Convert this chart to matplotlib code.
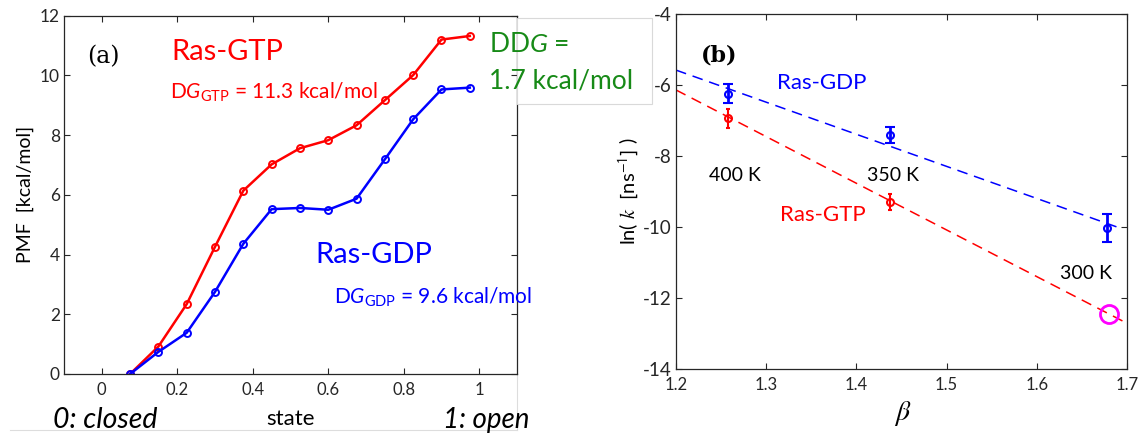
import matplotlib
matplotlib.use('Agg')
import matplotlib.pyplot as plt
from matplotlib.patches import Rectangle
from matplotlib.lines import Line2D

plt.rcParams['font.family'] = ['Lato', 'DejaVu Sans']
plt.rcParams['mathtext.fontset'] = 'custom'
plt.rcParams['mathtext.rm'] = 'Lato'
plt.rcParams['mathtext.it'] = 'Lato:italic'
plt.rcParams['mathtext.sf'] = 'Lato'
plt.rcParams['axes.unicode_minus'] = False

# (a) PMF along the state coordinate
state = [0.075, 0.15, 0.225, 0.3, 0.375, 0.45, 0.525, 0.6, 0.675, 0.75, 0.825, 0.9, 0.975]
pmf_gtp = [0, 0.92, 2.34, 4.26, 6.14, 7.02, 7.56, 7.83, 8.33, 9.17, 10.01, 11.2, 11.32]
pmf_gdp = [0, 0.74, 1.38, 2.75, 4.36, 5.52, 5.56, 5.50, 5.87, 7.19, 8.53, 9.53, 9.59]

# (b) Arrhenius plot
beta = [1.2577, 1.4377, 1.6774]
lnk_gdp = [-6.24, -7.41, -10.03]
err_gdp = [0.28, 0.22, 0.40]
beta_gtp = [1.2577, 1.4377]
lnk_gtp = [-6.94, -9.29]
err_gtp = [0.27, 0.23]
beta_extrap = [1.68]
lnk_extrap = [-12.47]
fit_beta_gtp = [1.2, 1.7]
fit_gtp = [-6.14, -12.72]
fit_beta_gdp = [1.2, 1.695]
fit_gdp = [-5.58, -10.06]

temp_labels = ['400 K', '350 K', '300 K']
temp_pos = [(1.2366, -8.71), (1.4115, -8.71), (1.6257, -11.47)]

red = '#ff0000'
blue = '#0000ff'
green = '#178a17'
axcol = '#262626'

fig = plt.figure(figsize=(11.39, 4.33), dpi=100)
ax1 = fig.add_axes([0.0562, 0.1363, 0.3977, 0.8275])
ax2 = fig.add_axes([0.5935, 0.1485, 0.396, 0.819])

for ax in (ax1, ax2):
    ax.tick_params(direction='in', top=True, right=True, length=4, width=0.8,
                   colors=axcol, labelsize=12, pad=6)
    ax.tick_params(axis='y', pad=3, labelsize=12.5)
    for s in ax.spines.values():
        s.set_color(axcol)
        s.set_linewidth(0.9)

# ---- panel (a)
ax1.plot(state, pmf_gtp, '-o', color=red, lw=1.8, ms=5, mfc='none', mew=1.4)
ax1.plot(state, pmf_gdp, '-o', color=blue, lw=1.8, ms=5, mfc='none', mew=1.4)
ax1.set_xlim(-0.1, 1.1)
ax1.set_ylim(0, 12)
ax1.set_xticks([0, 0.2, 0.4, 0.6, 0.8, 1])
ax1.set_xticklabels(['0', '0.2', '0.4', '0.6', '0.8', '1'])
ax1.set_yticks(range(0, 13, 2))
ax1.set_ylabel('PMF  [kcal/mol]', fontsize=14)
ax1.yaxis.set_label_coords(-0.066, 0.5)
ax1.set_xlabel('state', fontsize=16)
ax1.xaxis.label.set_va('baseline')
ax1.xaxis.set_label_coords(0.5, -0.142)

ax1.text(-0.038, 10.4, '(a)', family='DejaVu Serif', fontsize=17, va='baseline')
ax1.text(0.1855, 10.52, 'Ras-GTP', color=red, fontsize=21, va='baseline')
ax1.text(0.181, 9.21, r'D$\mathit{G}_{\mathrm{GTP}}$ = 11.3 kcal/mol', color=red,
         fontsize=15, va='baseline')
ax1.text(0.565, 3.71, 'Ras-GDP', color=blue, fontsize=21, va='baseline')
ax1.text(0.614, 2.34, r'D$\mathit{G}_{\mathrm{GDP}}$ = 9.6 kcal/mol', color=blue,
         fontsize=15, va='baseline')
ax1.text(-0.024, -0.151, '0: closed', style='italic', fontsize=20.5, va='baseline',
         transform=ax1.transAxes)
ax1.text(0.837, -0.151, '1: open', style='italic', fontsize=20, va='baseline',
         transform=ax1.transAxes)

# ---- panel (b)
ax2.plot(fit_beta_gdp, fit_gdp, '--', color=blue, lw=1.1, dashes=(7, 4.5))
ax2.plot(fit_beta_gtp, fit_gtp, '--', color=red, lw=1.1, dashes=(7, 4.5))
ax2.errorbar(beta, lnk_gdp, yerr=err_gdp, fmt='o', color=blue, ms=5, mfc='none',
             mew=1.5, elinewidth=2, capsize=3.5, capthick=2)
ax2.errorbar(beta_gtp, lnk_gtp, yerr=err_gtp, fmt='o', color=red, ms=5, mfc='none',
             mew=1.5, elinewidth=1.5, capsize=1.5, capthick=1.5)
ax2.plot(beta_extrap, lnk_extrap, 'o', ms=13, mfc='none', mec='#ff00ff', mew=2)
ax2.set_xlim(1.2, 1.7)
ax2.set_ylim(-14, -4)
ax2.set_xticks([1.2, 1.3, 1.4, 1.5, 1.6, 1.7])
ax2.set_xticklabels(['1.2', '1.3', '1.4', '1.5', '1.6', '1.7'])
ax2.set_yticks(range(-14, -3, 2))
ax2.set_yticklabels([str(v) for v in range(-14, -3, 2)])
ax2.tick_params(axis='y', labelsize=13.5)
ax2.set_ylabel(r'ln( $k$  [ns$^{\mathsf{-1}}$] )', fontsize=14.5, math_fontfamily='stix')
ax2.yaxis.set_label_coords(-0.077, 0.5)
ax2.set_xlabel(r'$\beta$', fontsize=20, math_fontfamily='stix')
ax2.xaxis.label.set_va('baseline')
ax2.xaxis.set_label_coords(0.503, -0.145)

ax2.text(1.2277, -5.34, '(b)', family='DejaVu Serif', fontweight='bold', fontsize=16,
         va='baseline')
ax2.text(1.3118, -6.12, 'Ras-GDP', color=blue, fontsize=16, va='baseline')
ax2.text(1.3157, -9.84, 'Ras-GTP', color=red, fontsize=16, va='baseline')
for lab, (bx, by) in zip(temp_labels, temp_pos):
    ax2.text(bx, by, lab, fontsize=14, va='baseline')

# DDG text box overlapping panel (a)
fig.add_artist(Rectangle((0.4539, 0.7598), 0.1185, 0.1986, transform=fig.transFigure,
                         facecolor='white', edgecolor='#d9d9d9', lw=0.8, zorder=5))
fig.text(0.4293, 0.8806, r'DD$\mathit{G}$ =', color=green, fontsize=19, va='baseline',
         zorder=6)
fig.text(0.4293, 0.7945, '1.7 kcal/mol', color=green, fontsize=19, va='baseline',
         zorder=6)

# faint frame of the pasted panel
fig.add_artist(Line2D([0.009, 0.4539], [0.007, 0.007], transform=fig.transFigure,
                      color='#dddddd', lw=0.8, zorder=-1))
fig.add_artist(Line2D([0.4539, 0.4539], [0.007, 0.1363], transform=fig.transFigure,
                      color='#dddddd', lw=0.8, zorder=-1))

fig.savefig('out.png', dpi=100)
